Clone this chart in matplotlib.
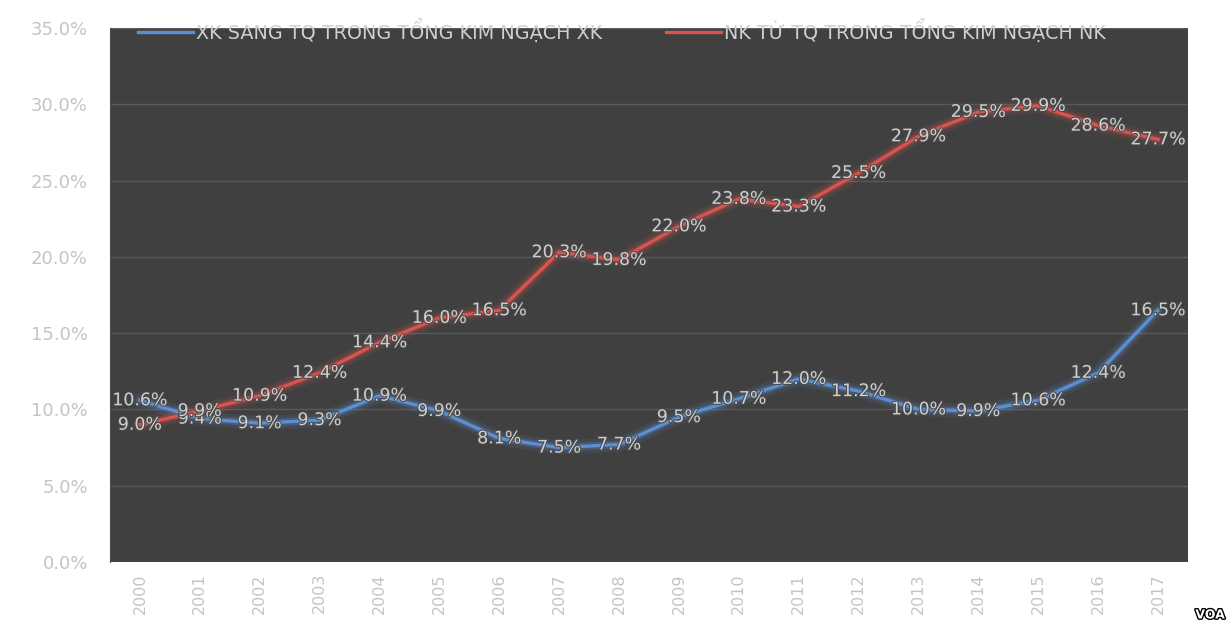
"""Tỷ trọng XK sang / NK từ Trung Quốc trong tổng kim ngạch (2000-2017)."""

import matplotlib.pyplot as plt
import matplotlib.patheffects as pe

# dữ liệu
years = [str(y) for y in range(2000, 2018)]
xk = [10.6, 9.4, 9.1, 9.3, 10.9, 9.9, 8.1, 7.5, 7.7, 9.5,
      10.7, 12.0, 11.2, 10.0, 9.9, 10.6, 12.4, 16.5]
nk = [9.0, 9.9, 10.9, 12.4, 14.4, 16.0, 16.5, 20.3, 19.8, 22.0,
      23.8, 23.3, 25.5, 27.9, 29.5, 29.9, 28.6, 27.7]
label_xk = "XK SANG TQ TRONG TỔNG KIM NGẠCH XK"
label_nk = "NK TỪ TQ TRONG TỔNG KIM NGẠCH NK"

bg = "#404040"
txt = "#c4c4c4"
blue = "#5b8fd3"
red = "#d9534f"

W, H = 1228, 625
fig = plt.figure(figsize=(W / 100, H / 100), dpi=100, facecolor="white")
# tmavé pozadí s bílým okrajem nahoře a vlevo
bgax = fig.add_axes([5 / W, 0, 1, 1 - 6 / H])
bgax.set_facecolor(bg)
bgax.axis("off")
bgax.patch.set_visible(True)

# plocha grafu: x 110..1188 px, y 0 % = 562 px, 35 % = 28 px
ax = fig.add_axes([110 / W, 63 / H, 1078 / W, 534 / H])
ax.set_facecolor(bg)
x = list(range(len(years)))

for vals, col, lab in ((xk, blue, label_xk), (nk, red, label_nk)):
    # "záře" kolem čáry
    ax.plot(x, vals, color=col, lw=10, alpha=0.12, solid_capstyle="round", zorder=2)
    ax.plot(x, vals, color=col, lw=5.5, alpha=0.25, solid_capstyle="round", zorder=2)
    ax.plot(x, vals, color=col, lw=2.4, label=lab, solid_joinstyle="round", zorder=3)
    for xi, v in zip(x, vals):
        ax.text(xi, v, f"{v:.1f}%", ha="center", va="center",
                color="#cfcfcf", fontsize=12.5, zorder=4,
                path_effects=[pe.withStroke(linewidth=1.5, foreground="#4a4a4a")])

ax.set_xlim(-0.5, len(years) - 0.5)
ax.set_ylim(0, 35)
ax.set_yticks(range(0, 36, 5))
ax.set_yticklabels([f"{v:.1f}%" for v in range(0, 36, 5)])
ax.set_xticks(x)
ax.set_xticklabels(years, rotation=90)

ax.tick_params(axis="y", colors=txt, labelsize=13, length=0, pad=16)
ax.tick_params(axis="x", colors=txt, labelsize=11.5, length=0, pad=8)
ax.grid(axis="y", color="#5a5a5a", lw=1)
for s in ax.spines.values():
    s.set_visible(False)
ax.spines["left"].set_visible(True)
ax.spines["left"].set_color("#4c4c4c")

leg = ax.legend(loc="center left", ncol=2, frameon=False, fontsize=13.8,
                bbox_to_anchor=((138 - 110) / 1078, (562 - 31) / 534),
                borderpad=0, borderaxespad=0, handlelength=2.85,
                handletextpad=0.2, columnspacing=3.3)
for t in leg.get_texts():
    t.set_color("#d0d0d0")

fig.text(1210 / W, 10 / H, "VOA", color="white", fontsize=9,
         fontweight="bold", ha="center", va="center",
         path_effects=[pe.withStroke(linewidth=2, foreground="black")])

plt.savefig("out.png", dpi=100, facecolor=fig.get_facecolor())
